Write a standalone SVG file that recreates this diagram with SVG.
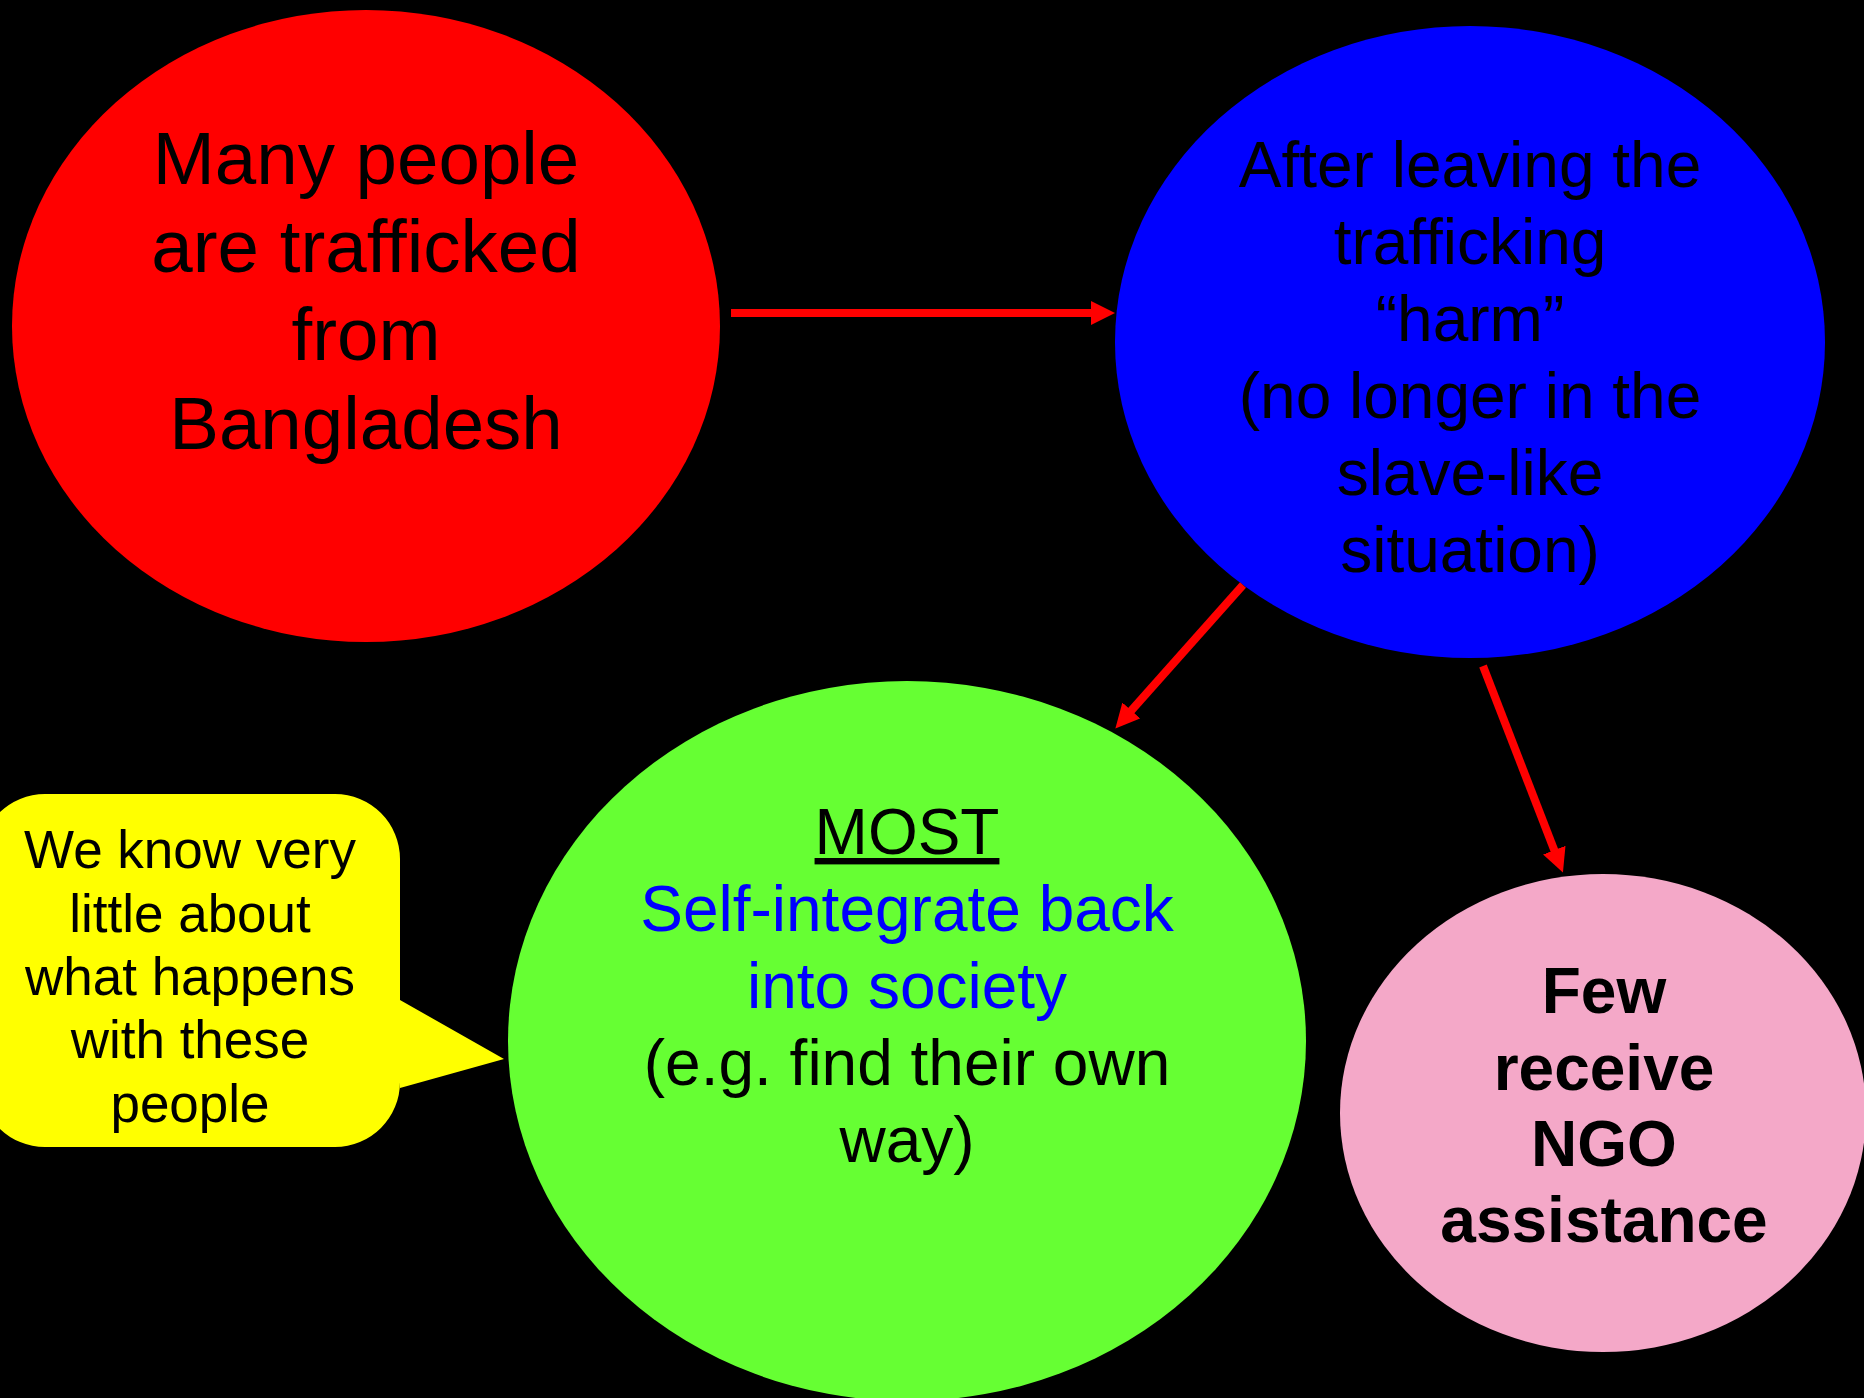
<svg xmlns="http://www.w3.org/2000/svg" width="1864" height="1398" viewBox="0 0 1864 1398">
<style>
text{font-family:"Liberation Sans",Arial,sans-serif;text-anchor:middle;fill:#000}
.big{font-size:74.5px}
.mid{font-size:64px}
.sm{font-size:53px}
.b{font-weight:bold}
.conn{stroke:#FF0000;stroke-width:8;fill:none;marker-end:url(#ah)}
</style>
<defs>
<marker id="ah" markerUnits="userSpaceOnUse" markerWidth="24" markerHeight="24" viewBox="0 0 24 24" refX="2" refY="12" orient="auto">
<path d="M0,0 L24,12 L0,24 z" fill="#FF0000"/>
</marker>
</defs>
<rect width="1864" height="1398" fill="#000"/>
<g id="node-red">
<ellipse cx="366" cy="326" rx="354" ry="316" fill="#FF0000"/>
<text class="big" x="366" y="184">Many people</text>
<text class="big" x="366" y="272">are trafficked</text>
<text class="big" x="366" y="360">from</text>
<text class="big" x="366" y="449">Bangladesh</text>
</g>
<g id="node-blue">
<ellipse cx="1470" cy="342" rx="355" ry="316" fill="#0000FF"/>
<text class="mid" x="1470" y="187">After leaving the</text>
<text class="mid" x="1470" y="264">trafficking</text>
<text class="mid" x="1470" y="341">“harm”</text>
<text class="mid" x="1470" y="418">(no longer in the</text>
<text class="mid" x="1470" y="495">slave-like</text>
<text class="mid" x="1470" y="572">situation)</text>
</g>
<g id="node-green">
<ellipse cx="907" cy="1041" rx="399" ry="360" fill="#66FF33"/>
<text class="mid" x="907" y="854" text-decoration="underline">MOST</text>
<text class="mid" x="907" y="931" style="fill:#0000FF">Self-integrate back</text>
<text class="mid" x="907" y="1008" style="fill:#0000FF">into society</text>
<text class="mid" x="907" y="1085">(e.g. find their own</text>
<text class="mid" x="907" y="1162">way)</text>
</g>
<g id="node-pink">
<ellipse cx="1603" cy="1113" rx="263" ry="239" fill="#F4A8C8"/>
<text class="mid b" x="1604" y="1013">Few</text>
<text class="mid b" x="1604" y="1090">receive</text>
<text class="mid b" x="1604" y="1166">NGO</text>
<text class="mid b" x="1604" y="1242">assistance</text>
</g>
<g id="node-callout">
<path d="M45,794 L335,794 A65,65 0 0 1 400,859 L400,1000 L504,1059 L400,1088 L400,1082 A65,65 0 0 1 335,1147 L45,1147 A65,65 0 0 1 -20,1082 L-20,859 A65,65 0 0 1 45,794 Z" fill="#FFFF00"/>
<text class="sm" x="190" y="868">We know very</text>
<text class="sm" x="190" y="932">little about</text>
<text class="sm" x="190" y="995">what happens</text>
<text class="sm" x="190" y="1058">with these</text>
<text class="sm" x="190" y="1122">people</text>
</g>
<g id="connectors">
<line class="conn" x1="731" y1="313" x2="1093" y2="313"/>
<line class="conn" x1="1243" y1="585" x2="1130" y2="712"/>
<line class="conn" x1="1483" y1="666" x2="1555" y2="852"/>
</g>
</svg>
